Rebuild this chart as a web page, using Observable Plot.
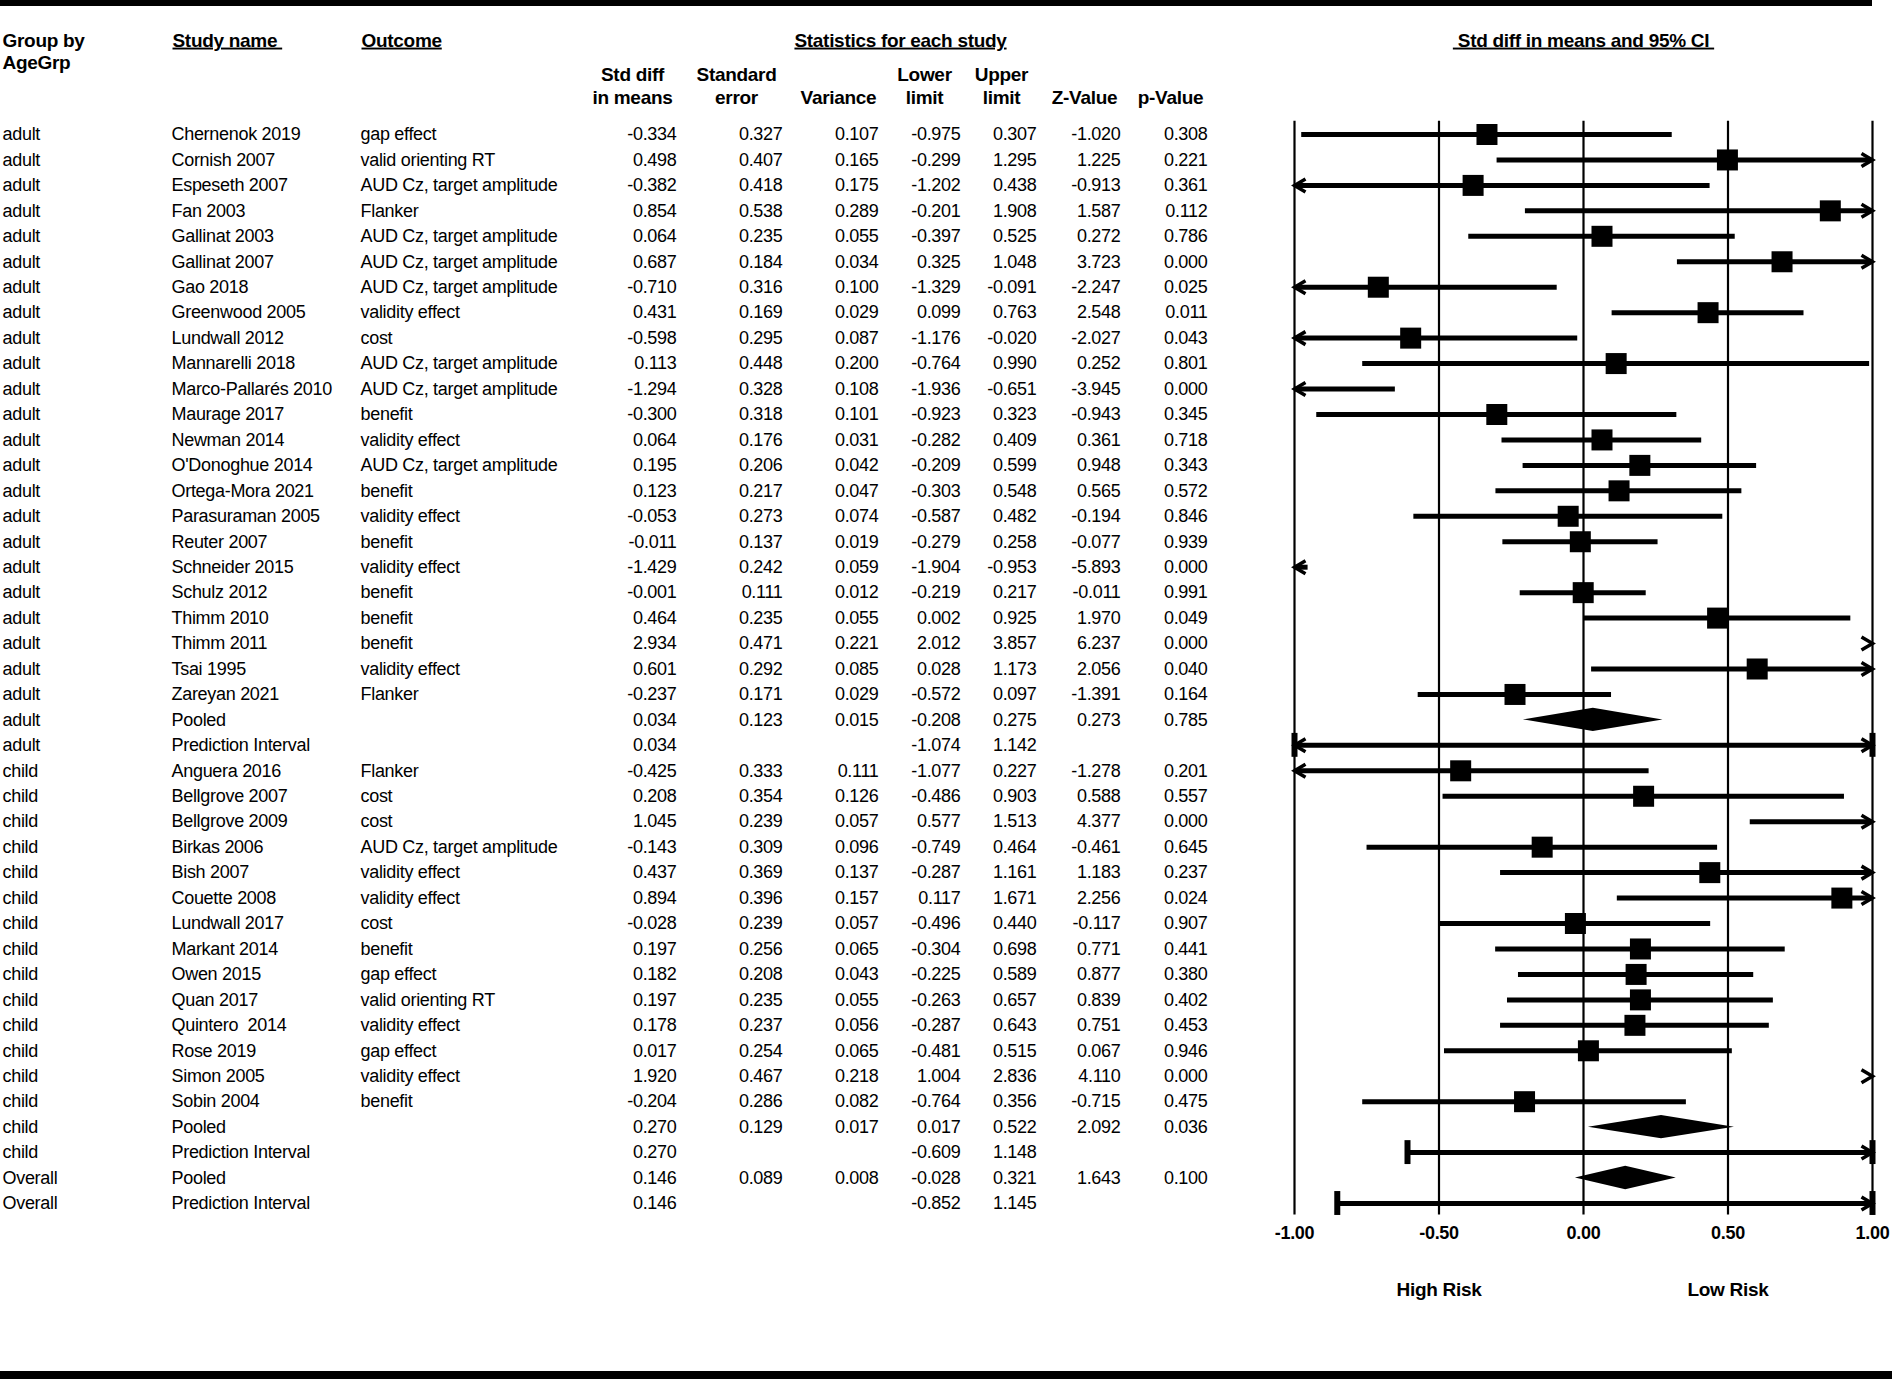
<!DOCTYPE html>
<html><head><meta charset="utf-8">
<script src="https://cdn.jsdelivr.net/npm/d3@7"></script>
<script src="https://cdn.jsdelivr.net/npm/@observablehq/plot@0.6"></script>
<style>
html,body{margin:0;padding:0;background:#fff;}
#wrap{position:relative;width:1892px;height:1379px;overflow:hidden;background:#fff;}
#wrap svg{position:absolute;left:0;top:0;}
.bar{position:absolute;left:0;background:#000;}
svg text{letter-spacing:-0.3px;}
</style></head><body>
<div id="wrap"></div>
<script>
const group = ["adult","adult","adult","adult","adult","adult","adult","adult","adult","adult","adult","adult","adult","adult","adult","adult","adult","adult","adult","adult","adult","adult","adult","adult","adult",
  "child","child","child","child","child","child","child","child","child","child","child","child","child","child","child","child",
  "Overall","Overall"];
const study = ["Chernenok 2019","Cornish 2007","Espeseth 2007","Fan 2003","Gallinat 2003","Gallinat 2007","Gao 2018","Greenwood 2005","Lundwall 2012","Mannarelli 2018","Marco-Pallarés 2010","Maurage 2017","Newman 2014","O'Donoghue 2014","Ortega-Mora 2021","Parasuraman 2005","Reuter 2007","Schneider 2015","Schulz 2012","Thimm 2010","Thimm 2011","Tsai 1995","Zareyan 2021","Pooled","Prediction Interval",
  "Anguera 2016","Bellgrove 2007","Bellgrove 2009","Birkas 2006","Bish 2007","Couette 2008","Lundwall 2017","Markant 2014","Owen 2015","Quan 2017","Quintero  2014","Rose 2019","Simon 2005","Sobin 2004","Pooled","Prediction Interval",
  "Pooled","Prediction Interval"];
const outcome = ["gap effect","valid orienting RT","AUD Cz, target amplitude","Flanker","AUD Cz, target amplitude","AUD Cz, target amplitude","AUD Cz, target amplitude","validity effect","cost","AUD Cz, target amplitude","AUD Cz, target amplitude","benefit","validity effect","AUD Cz, target amplitude","benefit","validity effect","benefit","validity effect","benefit","benefit","benefit","validity effect","Flanker","","",
  "Flanker","cost","cost","AUD Cz, target amplitude","validity effect","validity effect","cost","benefit","gap effect","valid orienting RT","validity effect","gap effect","validity effect","benefit","","",
  "",""];
const est = [-0.334,0.498,-0.382,0.854,0.064,0.687,-0.710,0.431,-0.598,0.113,-1.294,-0.300,0.064,0.195,0.123,-0.053,-0.011,-1.429,-0.001,0.464,2.934,0.601,-0.237,0.034,0.034,
  -0.425,0.208,1.045,-0.143,0.437,0.894,-0.028,0.197,0.182,0.197,0.178,0.017,1.920,-0.204,0.270,0.270,
  0.146,0.146];
const stdErr = [0.327,0.407,0.418,0.538,0.235,0.184,0.316,0.169,0.295,0.448,0.328,0.318,0.176,0.206,0.217,0.273,0.137,0.242,0.111,0.235,0.471,0.292,0.171,0.123,null,
  0.333,0.354,0.239,0.309,0.369,0.396,0.239,0.256,0.208,0.235,0.237,0.254,0.467,0.286,0.129,null,
  0.089,null];
const variance = [0.107,0.165,0.175,0.289,0.055,0.034,0.100,0.029,0.087,0.200,0.108,0.101,0.031,0.042,0.047,0.074,0.019,0.059,0.012,0.055,0.221,0.085,0.029,0.015,null,
  0.111,0.126,0.057,0.096,0.137,0.157,0.057,0.065,0.043,0.055,0.056,0.065,0.218,0.082,0.017,null,
  0.008,null];
const lower = [-0.975,-0.299,-1.202,-0.201,-0.397,0.325,-1.329,0.099,-1.176,-0.764,-1.936,-0.923,-0.282,-0.209,-0.303,-0.587,-0.279,-1.904,-0.219,0.002,2.012,0.028,-0.572,-0.208,-1.074,
  -1.077,-0.486,0.577,-0.749,-0.287,0.117,-0.496,-0.304,-0.225,-0.263,-0.287,-0.481,1.004,-0.764,0.017,-0.609,
  -0.028,-0.852];
const upper = [0.307,1.295,0.438,1.908,0.525,1.048,-0.091,0.763,-0.020,0.990,-0.651,0.323,0.409,0.599,0.548,0.482,0.258,-0.953,0.217,0.925,3.857,1.173,0.097,0.275,1.142,
  0.227,0.903,1.513,0.464,1.161,1.671,0.440,0.698,0.589,0.657,0.643,0.515,2.836,0.356,0.522,1.148,
  0.321,1.145];
const zValue = [-1.020,1.225,-0.913,1.587,0.272,3.723,-2.247,2.548,-2.027,0.252,-3.945,-0.943,0.361,0.948,0.565,-0.194,-0.077,-5.893,-0.011,1.970,6.237,2.056,-1.391,0.273,null,
  -1.278,0.588,4.377,-0.461,1.183,2.256,-0.117,0.771,0.877,0.839,0.751,0.067,4.110,-0.715,2.092,null,
  1.643,null];
const pValue = [0.308,0.221,0.361,0.112,0.786,0.000,0.025,0.011,0.043,0.801,0.000,0.345,0.718,0.343,0.572,0.846,0.939,0.000,0.991,0.049,0.000,0.040,0.164,0.785,null,
  0.201,0.557,0.000,0.645,0.237,0.024,0.907,0.441,0.380,0.402,0.453,0.946,0.000,0.475,0.036,null,
  0.100,null];
const xTicks = [-1, -0.5, 0, 0.5, 1];
const riskLabels = [{x: -0.5, t: "High Risk"}, {x: 0.5, t: "Low Risk"}];

const fmt = v => v == null ? "" : v.toFixed(3);
const rows = study.map((s, i) => ({
  i, group: group[i], study: s, outcome: outcome[i],
  est: est[i], se: stdErr[i], variance: variance[i], lower: lower[i], upper: upper[i], z: zValue[i], p: pValue[i],
  kind: s === "Pooled" ? "pooled" : s === "Prediction Interval" ? "pi" : "study"
}));
const lo = r => Math.max(r.lower, -1), hi = r => Math.min(r.upper, 1);
const studies = rows.filter(r => r.kind === "study");
const pooled = rows.filter(r => r.kind === "pooled");
const pis = rows.filter(r => r.kind === "pi");
const ciLines = studies.filter(r => lo(r) < hi(r));
const squares = studies.filter(r => r.est >= -1 && r.est <= 1);
const leftArrows = rows.filter(r => r.kind !== "pooled" && r.lower < -1);
const rightArrows = rows.filter(r => r.kind !== "pooled" && r.upper > 1);
const HD = 0.46; // diamond half-height in rows
const HC = 0.47; // cap half-height in rows
const caps = pis.flatMap(r => [{i: r.i, x: lo(r)}, {i: r.i, x: hi(r)}]);
const diamond = pooled.flatMap(r => [
  {i: r.i, x: r.lower, y1: r.i, y2: r.i},
  {i: r.i, x: r.est, y1: r.i - HD, y2: r.i + HD},
  {i: r.i, x: r.upper, y1: r.i, y2: r.i}
]);
const chevronRight = {draw(c) { c.moveTo(-11, -6.5); c.lineTo(0, 0); c.lineTo(-11, 6.5); }};
const chevronLeft = {draw(c) { c.moveTo(11, -6.5); c.lineTo(0, 0); c.lineTo(11, 6.5); }};

const col = (field, dx, anchor) => Plot.text(rows, {
  y: "i", text: field, frameAnchor: "left", dx, textAnchor: anchor, lineAnchor: "middle", fontSize: 18, fill: "black"
});
const hdr = (t, x, y, anchor = "middle") => Plot.text([t], {
  text: d => d, frameAnchor: "top-left", dx: x, dy: y, textAnchor: anchor, lineAnchor: "middle",
  fontSize: 19, fontWeight: "bold", fill: "black"
});

const chart = Plot.plot({
  width: 1892, height: 1379,
  marginTop: 0, marginRight: 0, marginBottom: 0, marginLeft: 0,
  x: {type: "linear", domain: [-1, 1], range: [1294, 1872], axis: null},
  y: {type: "linear", domain: [0, 42], range: [134, 1203], axis: null},
  style: {fontFamily: '"Liberation Sans", Arial, sans-serif', color: "black", background: "transparent", overflow: "visible"},
  marks: [
    col("group", 2, "start"),
    col("study", 171, "start"),
    col("outcome", 360, "start"),
    col(d => fmt(d.est), 676, "end"),
    col(d => fmt(d.se), 782, "end"),
    col(d => fmt(d.variance), 878, "end"),
    col(d => fmt(d.lower), 960, "end"),
    col(d => fmt(d.upper), 1036, "end"),
    col(d => fmt(d.z), 1120, "end"),
    col(d => fmt(d.p), 1207, "end"),
    hdr("Group by", 2, 40, "start"),
    hdr("AgeGrp", 2, 62, "start"),
    hdr("Study name\u00a0", 172, 40, "start"),
    hdr("Outcome", 361, 40, "start"),
    hdr("Statistics for each study", 900, 40),
    hdr("Std diff", 632, 74), hdr("in means", 632, 97),
    hdr("Standard", 736, 74), hdr("error", 736, 97),
    hdr("Variance", 838, 97),
    hdr("Lower", 924, 74), hdr("limit", 924, 97),
    hdr("Upper", 1001, 74), hdr("limit", 1001, 97),
    hdr("Z-Value", 1084, 97),
    hdr("p-Value", 1170, 97),
    hdr("\u00a0Std diff in means and 95% CI\u00a0", 1583, 40),
    Plot.ruleX(xTicks, {x: d => d, y1: -0.52, y2: 42.45, stroke: "black", strokeWidth: 2.2}),
    Plot.ruleY(ciLines, {y: "i", x1: lo, x2: hi, stroke: "black", strokeWidth: 5}),
    Plot.ruleY(pis, {y: "i", x1: lo, x2: hi, stroke: "black", strokeWidth: 5}),
    Plot.ruleX(caps, {x: "x", y1: d => d.i - HC, y2: d => d.i + HC, stroke: "black", strokeWidth: 6}),
    Plot.dot(leftArrows, {x: lo, y: "i", symbol: chevronLeft, fill: "none", stroke: "black", strokeWidth: 3.5}),
    Plot.dot(rightArrows, {x: hi, y: "i", symbol: chevronRight, fill: "none", stroke: "black", strokeWidth: 3.5}),
    Plot.dot(squares, {x: "est", y: "i", symbol: "square", r: 11.85, fill: "black", stroke: "none"}),
    Plot.areaY(diamond, {x: "x", y1: "y1", y2: "y2", z: "i", fill: "black", curve: "linear"}),
    Plot.text(xTicks, {x: d => d, text: d => d.toFixed(2), frameAnchor: "top", dy: 1233, lineAnchor: "middle", textAnchor: "middle", fontSize: 18, fontWeight: "bold", fill: "black"}),
    Plot.text(riskLabels, {x: "x", text: "t", frameAnchor: "top", dy: 1289, lineAnchor: "middle", textAnchor: "middle", fontSize: 19, fontWeight: "bold", fill: "black"})
  ]
});

const underlined = new Set(["Study name\u00a0", "Outcome", "Statistics for each study", "\u00a0Std diff in means and 95% CI\u00a0"]);
d3.select(chart).selectAll("text").filter(function() { return underlined.has(this.textContent); })
  .style("text-decoration", "underline");

const wrapEl = document.getElementById("wrap");
wrapEl.appendChild(chart);
const topBar = document.createElement("div"); topBar.className = "bar";
topBar.style.cssText = "top:0;height:6px;width:1872px";
const botBar = document.createElement("div"); botBar.className = "bar";
botBar.style.cssText = "top:1371px;height:8px;width:1892px";
wrapEl.appendChild(topBar); wrapEl.appendChild(botBar);
</script>
</body></html>
